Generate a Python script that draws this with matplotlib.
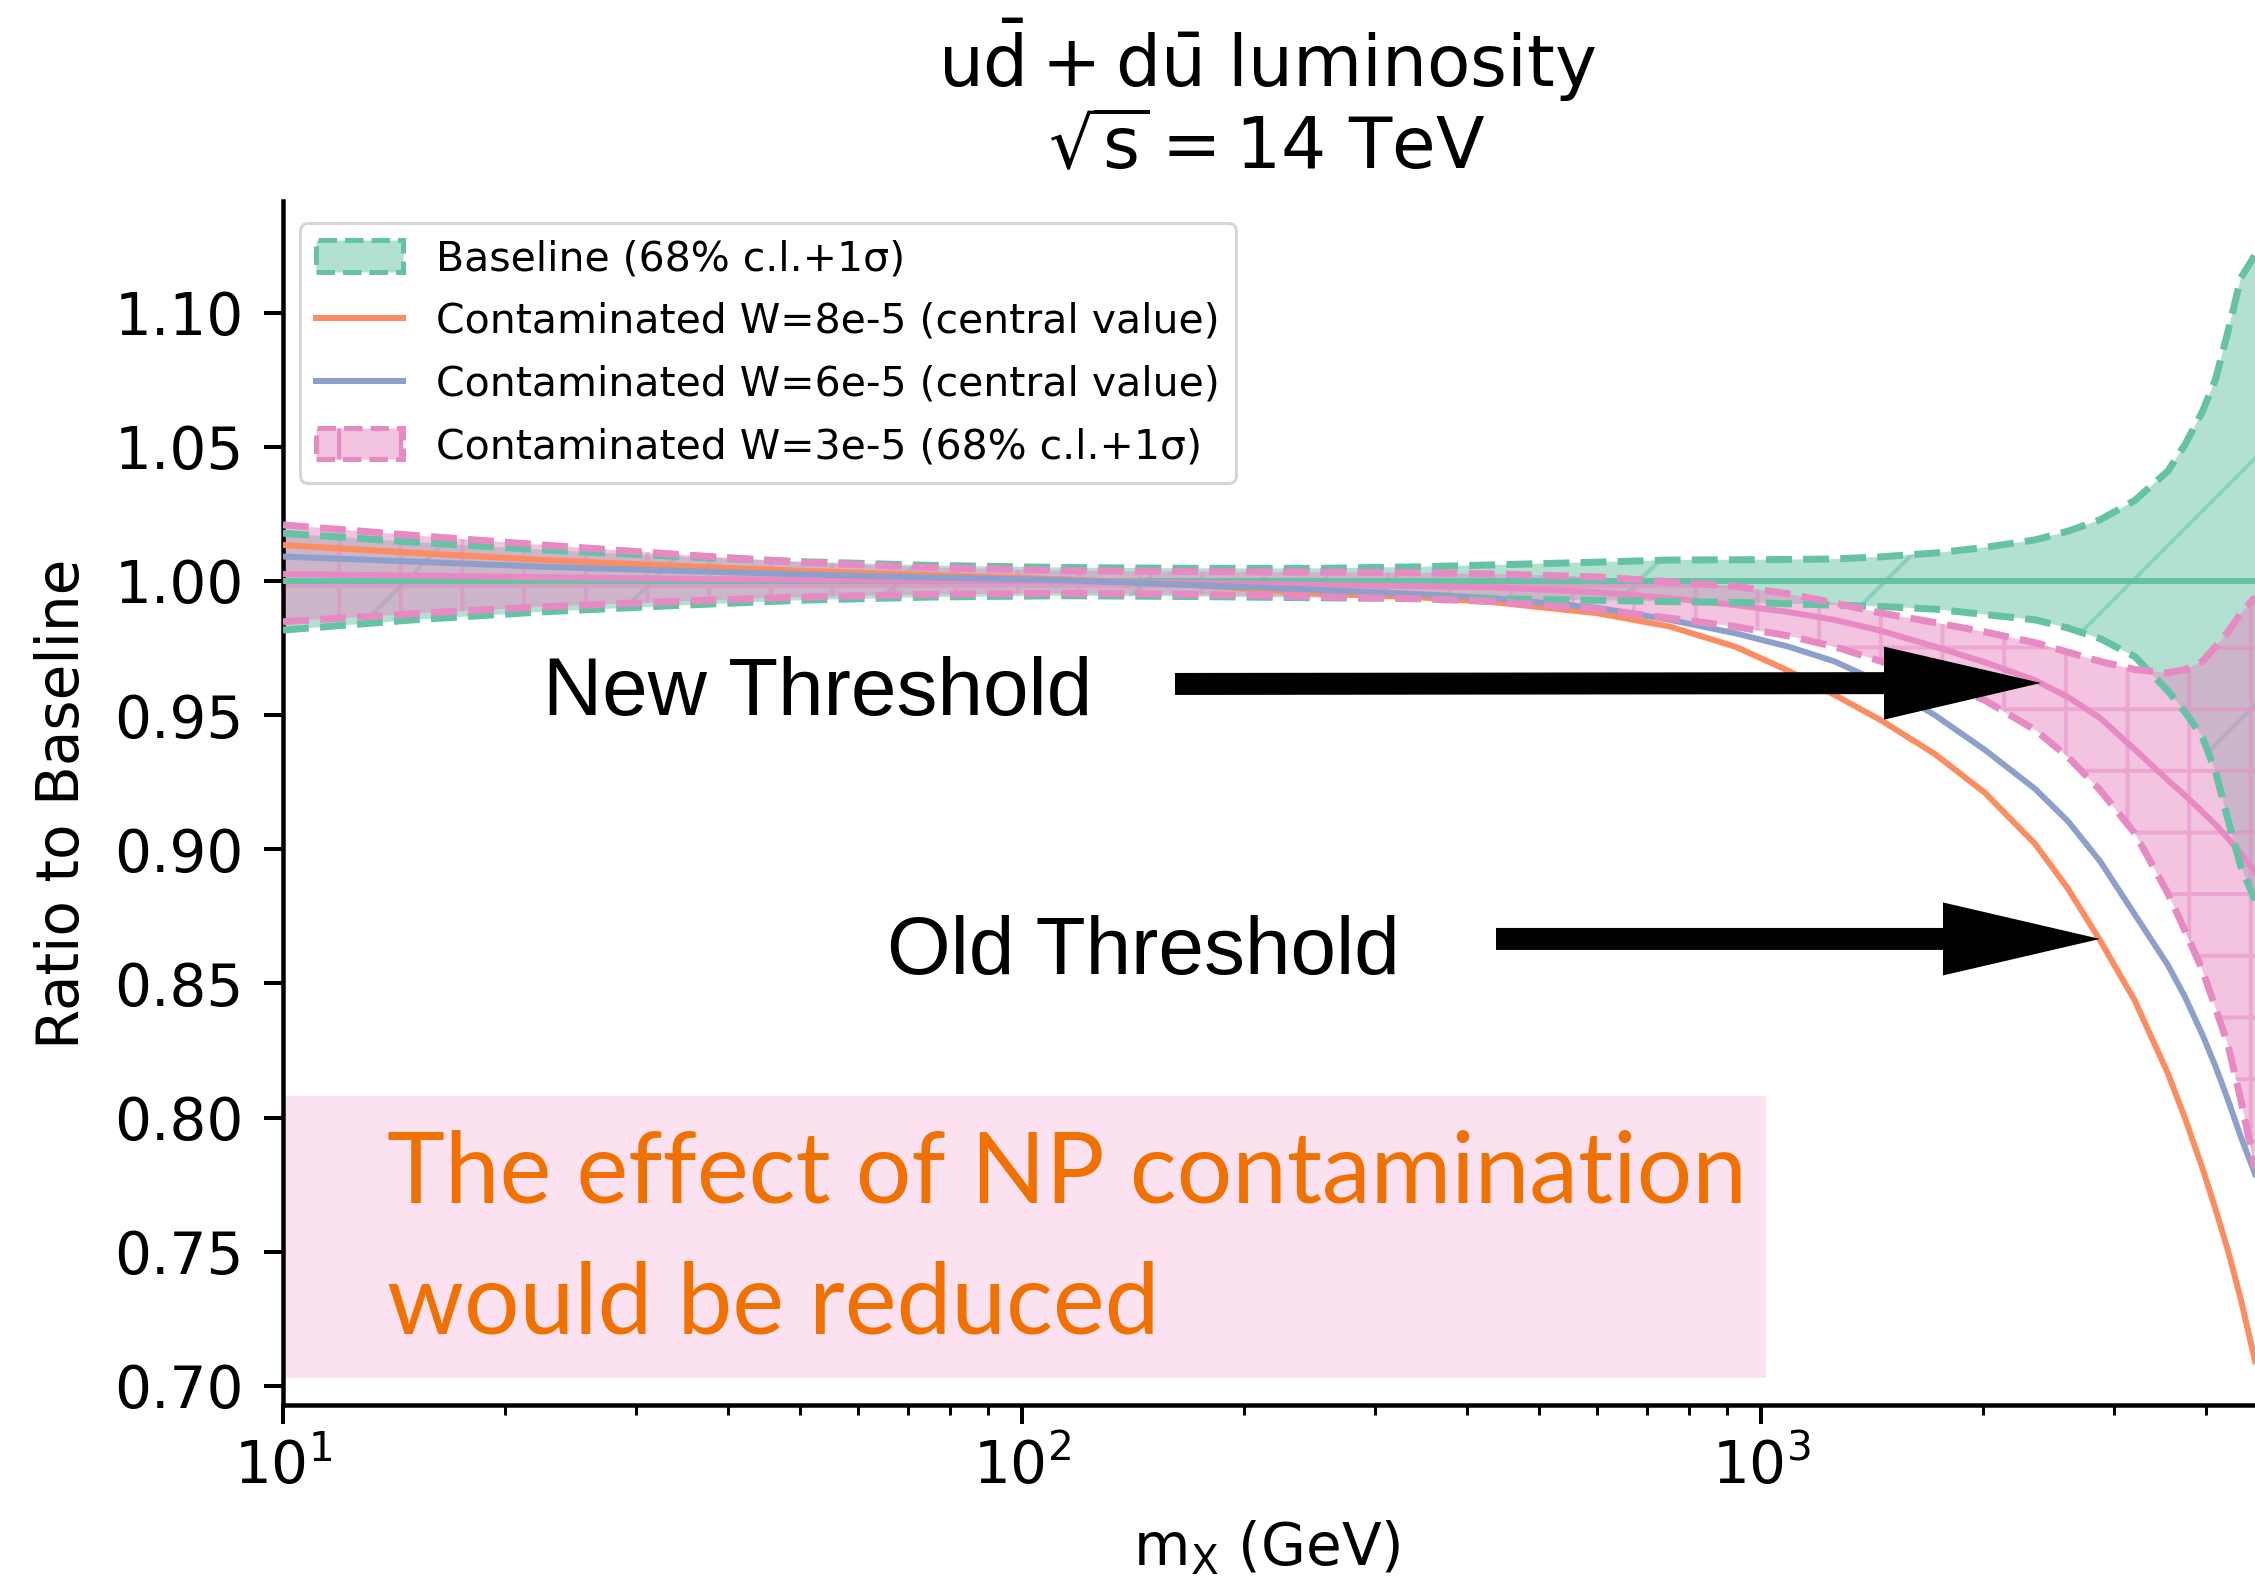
import matplotlib
matplotlib.use('Agg')
import matplotlib.pyplot as plt
from matplotlib.patches import Patch, Rectangle
from matplotlib.lines import Line2D
from matplotlib.ticker import FormatStrFormatter

# ---------------- data ----------------
mx = [10, 15, 22.5, 35, 50, 75, 114, 170, 255, 350, 437, 600, 753, 923, 1090,
      1258, 1455, 1719, 2010, 2349, 2600, 2877, 3205, 3554, 3750, 3955, 4120, 4285, 4460, 4662]

baseline_hi = [1.0178, 1.0145, 1.0116, 1.0090, 1.0072, 1.0058, 1.0050, 1.0047, 1.0047,
               1.0053, 1.0060, 1.0070, 1.0078, 1.0079, 1.0080, 1.0082, 1.0090, 1.0104,
               1.0125, 1.0153, 1.0185, 1.0228, 1.0300, 1.0410, 1.0510, 1.0630, 1.0750,
               1.0930, 1.1130, 1.1215]
baseline_lo = [0.9817, 0.9855, 0.9885, 0.9910, 0.9928, 0.9940, 0.9945, 0.9942, 0.9937,
               0.9935, 0.9933, 0.9928, 0.9923, 0.9920, 0.9915, 0.9910, 0.9905, 0.9895,
               0.9875, 0.9855, 0.9825, 0.9785, 0.9718, 0.9590, 0.9510, 0.9420, 0.9290,
               0.9110, 0.8935, 0.8810]
baseline_c = [1.0] * len(mx)

w8_central = [1.0134, 1.0105, 1.0078, 1.0055, 1.0038, 1.0022, 1.0006, 0.9985, 0.9953,
              0.9938, 0.9920, 0.9880, 0.9830, 0.9755, 0.9665, 0.9575, 0.9480, 0.9355,
              0.9210, 0.9020, 0.8855, 0.8660, 0.8436, 0.8164, 0.7996, 0.7813, 0.7660,
              0.7504, 0.7322, 0.7092]
w6_central = [1.0091, 1.0072, 1.0053, 1.0037, 1.0025, 1.0013, 1.0003, 0.9985, 0.9966,
              0.9950, 0.9935, 0.9900, 0.9855, 0.9805, 0.9755, 0.9700, 0.9620, 0.9500,
              0.9370, 0.9225, 0.9106, 0.8955, 0.8757, 0.8568, 0.8448, 0.8310, 0.8192,
              0.8066, 0.7928, 0.7790]

w3_central = [1.0026, 1.0020, 1.0014, 1.0008, 1.0004, 1.0001, 1.0000, 0.9993, 0.9985,
              0.9980, 0.9976, 0.9958, 0.9936, 0.9910, 0.9884, 0.9855, 0.9814, 0.9755,
              0.9697, 0.9630, 0.9568, 0.9489, 0.9372, 0.9257, 0.9200, 0.9140, 0.9092,
              0.9041, 0.8984, 0.8915]
w3_hi = [1.0209, 1.0170, 1.0134, 1.0097, 1.0070, 1.0050, 1.0038, 1.0035, 1.0033,
         1.0030, 1.0026, 1.0015, 0.9997, 0.9980, 0.9952, 0.9918, 0.9880, 0.9845,
         0.9810, 0.9770, 0.9735, 0.9700, 0.9670, 0.9658, 0.9670, 0.9700, 0.9755,
         0.9810, 0.9880, 0.9940]
w3_lo = [0.9848, 0.9878, 0.9904, 0.9925, 0.9940, 0.9950, 0.9954, 0.9950, 0.9941,
         0.9933, 0.9923, 0.9895, 0.9861, 0.9830, 0.9795, 0.9755, 0.9700, 0.9635,
         0.9555, 0.9445, 0.9345, 0.9220, 0.9060, 0.8835, 0.8695, 0.8550, 0.8410,
         0.8270, 0.8065, 0.7810]

yticks = [0.70, 0.75, 0.80, 0.85, 0.90, 0.95, 1.00, 1.05, 1.10]
legend_labels = ['Baseline (68% c.l.+1σ)',
                 'Contaminated W=8e-5 (central value)',
                 'Contaminated W=6e-5 (central value)',
                 'Contaminated W=3e-5 (68% c.l.+1σ)']

# ---------------- style ----------------
W, H = 2255, 1585
DPI = 740
PT = 72.0 / DPI          # points per pixel

GREEN = '#66c2a5'
ORANGE = '#fc8d62'
BLUE = '#8da0cb'
PINK = '#e78ac3'

plt.rcParams['hatch.linewidth'] = 4 * PT
plt.rcParams['mathtext.default'] = 'regular'

fig = plt.figure(figsize=(W / DPI, H / DPI), dpi=DPI)
fig.patch.set_facecolor('white')
ax_left, ax_right, ax_top, ax_bot = 283, W, 201, 1405
ax = fig.add_axes([ax_left / W, (H - ax_bot) / H, (ax_right - ax_left) / W, (ax_bot - ax_top) / H])

ax.set_xscale('log')
ax.set_xlim(10, 10 ** (1 + (ax_right - ax_left) / 739.0))
ax.set_ylim(0.6929, 1.1416)

for s in ['top', 'right']:
    ax.spines[s].set_visible(False)
for s in ['left', 'bottom']:
    ax.spines[s].set_linewidth(4.5 * PT)

ax.set_yticks(yticks)
ax.yaxis.set_major_formatter(FormatStrFormatter('%.2f'))
ax.tick_params(which='major', length=19 * PT, width=4 * PT, labelsize=58 * PT)
ax.tick_params(axis='y', pad=20 * PT)
ax.tick_params(axis='x', pad=14 * PT)
ax.tick_params(which='minor', length=10 * PT, width=3 * PT)

# NP annotation box
ax.add_patch(Rectangle((10, 0.7030), 1016 - 10, 0.808 - 0.7030, facecolor='#fce1f0',
                       edgecolor='none', zorder=0.5))

LW = 6 * PT
LWD = 7 * PT

# baseline band
ax.fill_between(mx, baseline_lo, baseline_hi, facecolor=GREEN, edgecolor=GREEN,
                alpha=0.5, hatch='/', linewidth=0, zorder=2)
# W=3e-5 band
ax.fill_between(mx, w3_lo, w3_hi, facecolor=PINK, edgecolor=PINK,
                alpha=0.5, hatch='++', linewidth=0, zorder=2.1)

ax.plot(mx, baseline_c, color=GREEN, lw=LW, zorder=3)
ax.plot(mx, w8_central, color=ORANGE, lw=LW, zorder=3.2)
ax.plot(mx, w6_central, color=BLUE, lw=LW, zorder=3.2)
ax.plot(mx, w3_central, color=PINK, lw=LW, zorder=3.1)

ax.plot(mx, baseline_hi, color=GREEN, lw=LWD, ls='--', zorder=3.3)
ax.plot(mx, baseline_lo, color=GREEN, lw=LWD, ls='--', zorder=3.3)
ax.plot(mx, w3_hi, color=PINK, lw=LWD, ls='--', zorder=3.4)
ax.plot(mx, w3_lo, color=PINK, lw=LWD, ls='--', zorder=3.4)

# legend
handles = [
    Patch(facecolor=(0.4, 0.76, 0.647, 0.5), edgecolor=GREEN, hatch='/', linestyle='--', linewidth=5 * PT),
    Line2D([], [], color=ORANGE, lw=LW),
    Line2D([], [], color=BLUE, lw=LW),
    Patch(facecolor=(0.906, 0.541, 0.765, 0.5), edgecolor=PINK, hatch='++', linestyle='--', linewidth=5 * PT),
]
leg = ax.legend(handles, legend_labels, loc='upper left',
                bbox_to_anchor=(17 / 1972, (1405 - 223) / 1204), borderaxespad=0,
                fontsize=41 * PT, handlelength=2.12, handleheight=0.8, labelspacing=0.55,
                frameon=True, framealpha=0.8, edgecolor='0.8', fancybox=True)
leg.get_frame().set_linewidth(3 * PT)
leg.set_zorder(5)

# arrows
def px2data(X, Y):
    lx = 1 + (X - ax_left) / 739.0
    y = 1.0 - (Y - 581) / 134.17 * 0.05
    return 10 ** lx, y

style = 'simple,head_length=%f,head_width=%f,tail_width=%f' % (157 * PT, 73 * PT, 22 * PT)
for (xt, yt), (xh, yh) in [((1175, 684), (2041, 683)), ((1496, 939), (2100, 939))]:
    ax.annotate('', xy=px2data(xh, yh), xytext=px2data(xt, yt),
                arrowprops=dict(arrowstyle=style, mutation_scale=1, shrinkA=0, shrinkB=0,
                                facecolor='black', edgecolor='none'), zorder=6)

# texts
fig.text(543 / W, 1 - 715 / H, 'New Threshold', fontsize=82 * PT, family='Liberation Sans',
         va='baseline', ha='left')
fig.text(887 / W, 1 - 974 / H, 'Old Threshold', fontsize=82 * PT, family='Liberation Sans',
         va='baseline', ha='left')
fig.text(387 / W, 1 - 1202 / H, 'The effect of NP contamination', fontsize=98 * PT,
         family='Lato', color='#f07100', va='baseline', ha='left')
fig.text(387 / W, 1 - 1333 / H, 'would be reduced', fontsize=98 * PT,
         family='Lato', color='#f07100', va='baseline', ha='left')

fig.text(1267 / W, 1 - 87 / H, r'$u\bar{d} + d\bar{u}$ luminosity', fontsize=71 * PT,
         ha='center', va='baseline')
fig.text(1267 / W, 1 - 168 / H, r'$\sqrt{s} = 14$ TeV', fontsize=71 * PT,
         ha='center', va='baseline')
fig.text(63 / W, 1 - 804 / H, 'Ratio to Baseline', rotation=90, fontsize=58 * PT,
         ha='center', va='center')
fig.text(1267 / W, 1 - 1548 / H, r'$m_X$ (GeV)', fontsize=58 * PT, ha='center', va='center')

fig.savefig('out.png', dpi=DPI)
